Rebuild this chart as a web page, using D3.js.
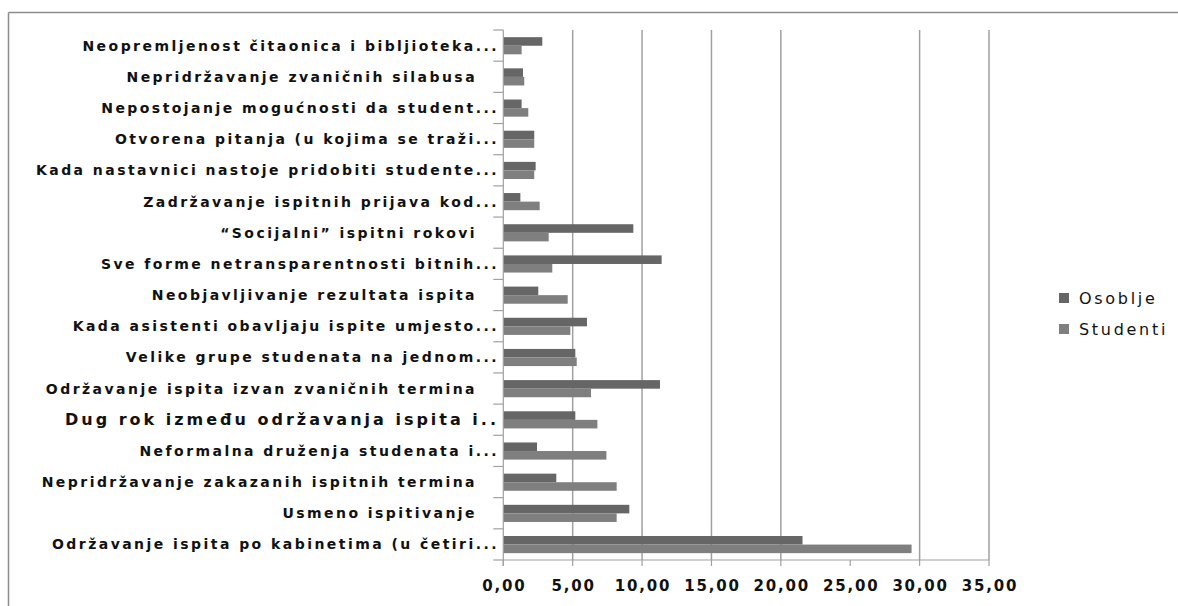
<!DOCTYPE html>
<html>
<head>
<meta charset="utf-8">
<script src="https://cdn.jsdelivr.net/npm/d3@7/dist/d3.min.js"></script>
<style>
  html, body { margin: 0; padding: 0; background: #fff; }
  svg { display: block; }
  text { white-space: pre; }
</style>
</head>
<body>
<svg id="chart" width="1178" height="606"></svg>
<script>
const categories = [
  "Neopremljenost čitaonica i bibljioteka...",
  "Nepridržavanje zvaničnih silabusa   ",
  "Nepostojanje mogućnosti da student...",
  "Otvorena pitanja (u kojima se traži...",
  "Kada nastavnici nastoje pridobiti studente...",
  "Zadržavanje ispitnih prijava kod...",
  "“Socijalni” ispitni rokovi   ",
  "Sve forme netransparentnosti bitnih...",
  "Neobjavljivanje rezultata ispita   ",
  "Kada asistenti obavljaju ispite umjesto...",
  "Velike grupe studenata na jednom...",
  "Održavanje ispita izvan zvaničnih termina   ",
  "Dug rok između održavanja ispita i..",
  "Neformalna druženja studenata i...",
  "Nepridržavanje zakazanih ispitnih termina   ",
  "Usmeno ispitivanje   ",
  "Održavanje ispita po kabinetima (u četiri..."
];
const osoblje = [2.81, 1.42, 1.32, 2.23, 2.33, 1.23, 9.37, 11.41, 2.52, 6.03, 5.19, 11.29, 5.19, 2.43, 3.82, 9.08, 21.56];
const studenti = [1.32, 1.51, 1.80, 2.23, 2.23, 2.62, 3.27, 3.53, 4.64, 4.83, 5.29, 6.32, 6.78, 7.43, 8.17, 8.17, 29.42];
const seriesNames = ["Osoblje", "Studenti"];
const xTicks = [0, 5, 10, 15, 20, 25, 30, 35];
const gridTicks = [5, 10, 15, 20, 30, 35];
const colors = ["#666666", "#7f7f7f"];

(function () {
const svg = d3.select("#chart");
const pLeft = 503.3, pRight = 989, pTop = 30, pBottom = 560;

// outer frame
svg.append("line").attr("x1", 8.5).attr("x2", 1178).attr("y1", 12.5).attr("y2", 12.5)
  .attr("stroke", "#8c8c8c").attr("stroke-width", 1.5);
svg.append("line").attr("x1", 8.5).attr("x2", 8.5).attr("y1", 12.5).attr("y2", 606)
  .attr("stroke", "#8c8c8c").attr("stroke-width", 1.5);

const x = d3.scaleLinear().domain([0, 35]).range([pLeft, pRight]);
const y = d3.scaleBand().domain(categories).range([pTop, pBottom]).padding(0);
const ys = d3.scaleBand().domain(seriesNames).range([y.bandwidth() * 0.23, y.bandwidth() * 0.78]).padding(0);

// gridlines
svg.append("g").selectAll("line").data(gridTicks).join("line")
  .attr("x1", d => x(d)).attr("x2", d => x(d))
  .attr("y1", pTop).attr("y2", pBottom)
  .attr("stroke", "#a0a0a0").attr("stroke-width", 1.5);

// bars
const data = [osoblje, studenti];
data.forEach((vals, si) => {
  svg.append("g").selectAll("rect").data(categories).join("rect")
    .attr("x", x(0))
    .attr("y", (c) => y(c) + ys(seriesNames[si]))
    .attr("width", (c, i) => x(vals[i]) - x(0))
    .attr("height", ys.bandwidth())
    .attr("fill", colors[si]);
});

// left axis
const yAxisG = svg.append("g");
yAxisG.append("line").attr("x1", pLeft).attr("x2", pLeft).attr("y1", pTop).attr("y2", pBottom + 6)
  .attr("stroke", "#a0a0a0").attr("stroke-width", 1.2);
const boundaries = categories.map(c => y(c)).concat([pBottom]);
yAxisG.selectAll("line.t").data(boundaries).join("line").attr("class", "t")
  .attr("x1", pLeft - 10).attr("x2", pLeft).attr("y1", d => d).attr("y2", d => d)
  .attr("stroke", "#a0a0a0").attr("stroke-width", 1.2);
yAxisG.selectAll("text").data(categories).join("text")
  .attr("x", 499)
  .attr("y", c => y(c) + y.bandwidth() / 2)
  .attr("dy", "0.36em")
  .attr("text-anchor", "end")
  .attr("font-family", "DejaVu Sans, sans-serif")
  .attr("font-weight", "bold")
  .attr("font-size", (c, i) => i === 12 ? 16 : 14)
  .attr("letter-spacing", (c, i) => i === 12 ? 3.0 : 2.45)
  .attr("fill", "#111")
  .text(c => c);

// bottom axis
const xAxisG = svg.append("g");
xAxisG.append("line").attr("x1", pLeft).attr("x2", pRight).attr("y1", pBottom).attr("y2", pBottom)
  .attr("stroke", "#a0a0a0").attr("stroke-width", 1.2);
xAxisG.selectAll("line.t").data(xTicks).join("line").attr("class", "t")
  .attr("x1", d => x(d)).attr("x2", d => x(d)).attr("y1", pBottom).attr("y2", pBottom + 6)
  .attr("stroke", "#a0a0a0").attr("stroke-width", 1.2);
const fmt = d => d3.format(".2f")(d).replace(".", ",");
xAxisG.selectAll("text").data(xTicks).join("text")
  .attr("x", d => x(d) + 1).attr("y", 586).attr("dy", "0.36em")
  .attr("text-anchor", "middle")
  .attr("font-family", "DejaVu Sans, sans-serif")
  .attr("font-weight", "bold").attr("font-size", 15)
  .attr("letter-spacing", 1.8)
  .attr("fill", "#111")
  .text(fmt);

// legend
const lg = svg.append("g");
seriesNames.forEach((s, i) => {
  const cy = 298 + i * 31;
  lg.append("rect").attr("x", 1059).attr("y", cy - 5).attr("width", 10).attr("height", 10).attr("fill", colors[i]);
  lg.append("text").attr("x", 1079).attr("y", cy).attr("dy", "0.36em")
    .attr("font-family", "DejaVu Sans, sans-serif").attr("font-size", 16)
    .attr("letter-spacing", 2.7).attr("fill", "#111").text(s);
});
})();
</script>
</body>
</html>
